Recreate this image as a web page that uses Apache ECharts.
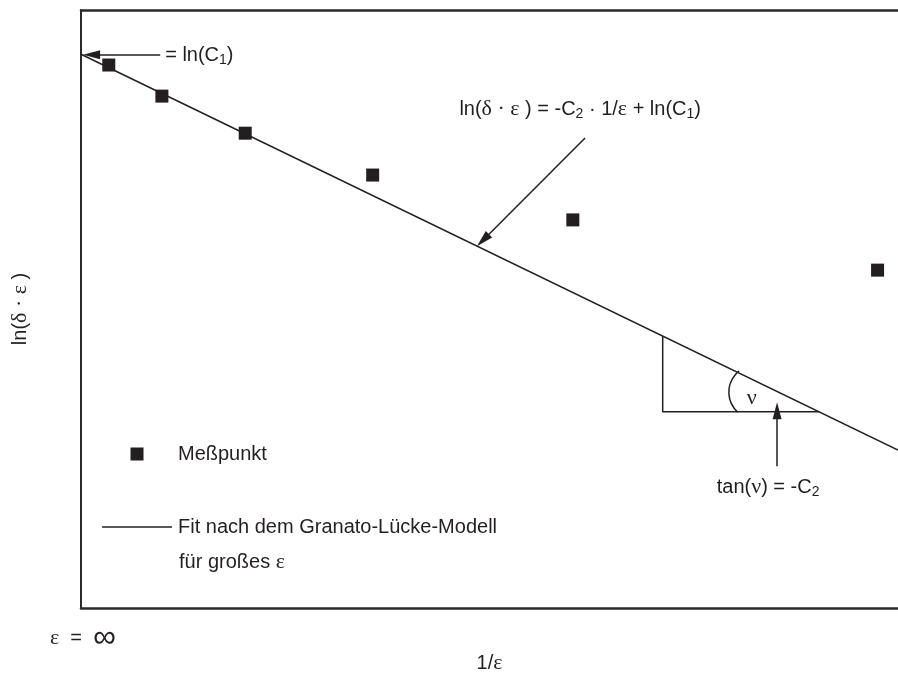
<!DOCTYPE html>
<html>
<head>
<meta charset="utf-8">
<script src="https://cdn.jsdelivr.net/npm/echarts@6/dist/echarts.min.js"></script>
<style>html,body{margin:0;padding:0;background:#fff}#c{width:898px;height:673px}</style>
</head>
<body>
<div id="c"></div>
<script>
// ---- data (abstract units: x = 1/ε from 0 to 100, y = ln(δ·ε) from 0 to 100) ----
const pointX = [3.4, 9.9, 20.1, 35.7, 60.2, 97.5];
const pointY = [90.8, 85.6, 79.4, 72.4, 64.9, 56.5];
const fitX = [0, 100];
const fitY = [92.6, 26.4];
// slope triangle (vertices on / under the fit line)
const triX = [71.2, 71.2, 90.3];
const triY = [45.5, 32.8, 32.8];

const INK = '#231f20';
const SANS = 'Liberation Sans';
const SERIF = 'Liberation Serif';
const rich = {
  n: {fontFamily: SANS, fontSize: 20, lineHeight: 24, color: INK},
  g: {fontFamily: SERIF, fontSize: 22, lineHeight: 24, color: INK},
  s: {fontFamily: SANS, fontSize: 14, lineHeight: 13, verticalAlign: 'bottom', color: INK},
  inf: {fontFamily: SANS, fontSize: 32, lineHeight: 24, color: INK}
};

const chart = echarts.init(document.getElementById('c'), null, {renderer: 'canvas'});
const hiddenAxisParts = {axisTick: {show: false}, axisLabel: {show: false}, splitLine: {show: false}};
const fitLine = fitX.map((x, i) => [x, fitY[i]]);

chart.setOption({
  backgroundColor: '#fff',
  animation: false,
  grid: {left: 81, right: 0, top: 10, bottom: 65, containLabel: false, outerBoundsMode: 'none'},
  xAxis: [
    Object.assign({
      type: 'value', min: 0, max: 100, position: 'bottom',
      axisLine: {show: true, lineStyle: {color: '#2a2a2a', width: 2.5}},
      name: '{n|1/}{g|ε}', nameLocation: 'middle', nameGap: 43,
      nameTextStyle: {rich: rich, fontFamily: SANS, fontSize: 20, color: INK}
    }, hiddenAxisParts),
    Object.assign({
      type: 'value', min: 0, max: 100, position: 'top',
      axisLine: {show: true, lineStyle: {color: '#2a2a2a', width: 2.5}}
    }, hiddenAxisParts)
  ],
  yAxis: Object.assign({
    type: 'value', min: 0, max: 100,
    axisLine: {show: true, lineStyle: {color: '#2a2a2a', width: 2}},
    name: '{n|ln(}{g|δ · ε }{n|)}', nameLocation: 'middle', nameRotate: 90, nameGap: 49,
    nameTextStyle: {rich: rich, fontFamily: SANS, fontSize: 20, color: INK}
  }, hiddenAxisParts),
  series: [
    {
      type: 'line', data: fitLine, showSymbol: false, silent: true,
      lineStyle: {color: INK, width: 1.5},
      markLine: {
        silent: true, animation: false,
        label: {show: false},
        lineStyle: {color: INK, width: 1.5, type: 'solid', opacity: 1},
        symbolSize: [9, 17],
        data: [
          [{coord: [9.7, 92.5], symbol: 'none'}, {coord: [1.3, 92.5], symbol: 'triangle'}],
          [{coord: [61.7, 78.6], symbol: 'none'}, {coord: [49.2, 61.5], symbol: 'triangle'}],
          [{coord: [85.2, 23.7], symbol: 'none'}, {coord: [85.2, 33.0], symbol: 'triangle'}]
        ]
      }
    },
    {
      type: 'line', data: triX.map((x, i) => [x, triY[i]]), showSymbol: false, silent: true,
      lineStyle: {color: INK, width: 1.5}
    },
    {
      type: 'scatter', data: pointX.map((x, i) => [x, pointY[i]]),
      symbol: 'rect', symbolSize: 13, silent: true,
      itemStyle: {color: INK, opacity: 1}
    }
  ]
});

function P(x, y) { return chart.convertToPixel({gridIndex: 0}, [x, y]); }
function txt(pos, text, align) {
  return {type: 'text', x: pos[0], y: pos[1], silent: true,
    style: {text: text, rich: rich, fill: INK, font: '20px ' + SANS, align: align || 'center', verticalAlign: 'middle'}};
}

const arcC = P(82.6, 36.1);
chart.setOption({
  graphic: [
    txt(P(61.1, 83.4), '{n|ln(}{g|δ · ε }{n|) = -C}{s|2}{n| · 1/}{g|ε}{n| + ln(C}{s|1}{n|)}'),
    txt(P(10.3, 92.4), '{n|= ln(C}{s|1}{n|)}', 'left'),
    txt(P(82.1, 35.1), '{g|ν}'),
    txt(P(84.1, 20.2), '{n|tan(}{g|ν}{n|) = -C}{s|2}'),
    {type: 'arc', silent: true,
     shape: {cx: arcC[0], cy: arcC[1], r: 27, startAngle: 2.30, endAngle: 4.04, clockwise: true},
     style: {stroke: INK, lineWidth: 1.5, fill: null}},
    // legend
    {type: 'rect', silent: true, shape: {x: 130.5, y: 447.5, width: 13, height: 13}, style: {fill: INK}},
    {type: 'text', x: 178, y: 454, silent: true, style: {text: 'Meßpunkt', fill: INK, font: '20px ' + SANS, verticalAlign: 'middle'}},
    {type: 'line', silent: true, shape: {x1: 102, y1: 527, x2: 172, y2: 527}, style: {stroke: INK, lineWidth: 1.5}},
    {type: 'text', x: 178, y: 527, silent: true, style: {text: 'Fit nach dem Granato-Lücke-Modell', fill: INK, font: '20px ' + SANS, verticalAlign: 'middle'}},
    txt([179, 562], '{n|für großes }{g|ε}', 'left'),
    txt([50, 638], '{g|ε}{n|  =  }{inf|∞}', 'left')
  ]
});
</script>
</body>
</html>
